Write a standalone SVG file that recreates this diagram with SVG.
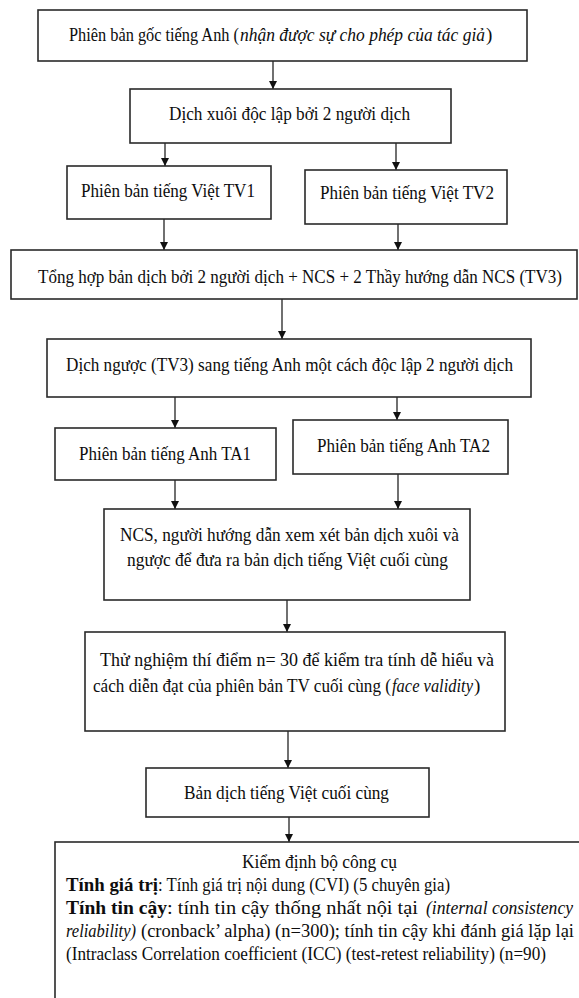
<svg xmlns="http://www.w3.org/2000/svg" width="579" height="998" viewBox="0 0 579 998">
<style>
.box{fill:#fff;stroke:#2a2a2a;stroke-width:1.6}
.t{font-family:"Liberation Serif","Times New Roman",serif;font-size:19px;fill:#0d0d0d}
.i{font-style:italic}
.b{font-weight:bold}
.c{stroke:#111;stroke-width:1.2;fill:none;marker-end:url(#ah)}
</style>
<defs>
<marker id="ah" viewBox="0 0 8 8" refX="8" refY="4" markerWidth="8" markerHeight="8" markerUnits="userSpaceOnUse" orient="auto">
<path d="M0,0 L8,4 L0,8 z" fill="#111"/>
</marker>
</defs>
<rect width="579" height="998" fill="#fff"/>
<g id="connectors">
<line class="c" x1="273" y1="61" x2="273" y2="89"/>
<line class="c" x1="165" y1="143" x2="165" y2="166"/>
<line class="c" x1="396" y1="143" x2="396" y2="170"/>
<line class="c" x1="164" y1="219" x2="164" y2="250"/>
<line class="c" x1="398" y1="224" x2="398" y2="250"/>
<line class="c" x1="282" y1="299" x2="282" y2="339"/>
<line class="c" x1="175" y1="397" x2="175" y2="428"/>
<line class="c" x1="397" y1="397" x2="397" y2="420"/>
<line class="c" x1="175" y1="480" x2="175" y2="509"/>
<line class="c" x1="398" y1="474" x2="398" y2="509"/>
<line class="c" x1="287" y1="600" x2="287" y2="632"/>
<line class="c" x1="288" y1="731" x2="288" y2="768"/>
<line class="c" x1="289" y1="817" x2="289" y2="842"/>
</g>
<g id="n1">
<rect class="box" x="38" y="10" width="489" height="51"/>
<text class="t" x="69" y="41" textLength="170" lengthAdjust="spacingAndGlyphs">Phiên bản gốc tiếng Anh (</text>
<text class="t i" x="240" y="41" textLength="245" lengthAdjust="spacingAndGlyphs">nhận được sự cho phép của tác giả</text>
<text class="t" x="486" y="41">)</text>
</g>
<g id="n2">
<rect class="box" x="130" y="89" width="321" height="54"/>
<text class="t" x="169" y="120" textLength="241" lengthAdjust="spacingAndGlyphs">Dịch xuôi độc lập bởi 2 người dịch</text>
</g>
<g id="n3">
<rect class="box" x="67" y="166" width="204" height="53"/>
<text class="t" x="81" y="197" textLength="174" lengthAdjust="spacingAndGlyphs">Phiên bản tiếng Việt TV1</text>
</g>
<g id="n4">
<rect class="box" x="305" y="170" width="202" height="54"/>
<text class="t" x="320" y="199" textLength="174" lengthAdjust="spacingAndGlyphs">Phiên bản tiếng Việt TV2</text>
</g>
<g id="n5">
<rect class="box" x="11" y="250" width="566" height="49"/>
<text class="t" x="38" y="283" textLength="524" lengthAdjust="spacingAndGlyphs">Tổng hợp bản dịch bởi 2 người dịch + NCS + 2 Thầy hướng dẫn NCS (TV3)</text>
</g>
<g id="n6">
<rect class="box" x="47" y="339" width="484" height="58"/>
<text class="t" x="66" y="371" textLength="447" lengthAdjust="spacingAndGlyphs">Dịch ngược (TV3) sang tiếng Anh một cách độc lập 2 người dịch</text>
</g>
<g id="n7">
<rect class="box" x="55" y="428" width="221" height="52"/>
<text class="t" x="79" y="460" textLength="172" lengthAdjust="spacingAndGlyphs">Phiên bản tiếng Anh TA1</text>
</g>
<g id="n8">
<rect class="box" x="293" y="420" width="215" height="54"/>
<text class="t" x="317" y="452" textLength="173" lengthAdjust="spacingAndGlyphs">Phiên bản tiếng Anh TA2</text>
</g>
<g id="n9">
<rect class="box" x="104" y="509" width="366" height="91"/>
<text class="t" x="120" y="541" textLength="339" lengthAdjust="spacingAndGlyphs">NCS, người hướng dẫn xem xét bản dịch xuôi và</text>
<text class="t" x="127" y="566" textLength="321" lengthAdjust="spacingAndGlyphs">ngược để đưa ra bản dịch tiếng Việt cuối cùng</text>
</g>
<g id="n10">
<rect class="box" x="85" y="632" width="420" height="99"/>
<text class="t" x="100" y="666" textLength="394" lengthAdjust="spacingAndGlyphs">Thử nghiệm thí điểm n= 30 để kiểm tra tính dễ hiểu và</text>
<text class="t" x="93" y="692" textLength="298" lengthAdjust="spacingAndGlyphs">cách diễn đạt của phiên bản TV cuối cùng (</text>
<text class="t i" x="392" y="692" textLength="81" lengthAdjust="spacingAndGlyphs">face validity</text>
<text class="t" x="474" y="692">)</text>
</g>
<g id="n11">
<rect class="box" x="146" y="768" width="283" height="49"/>
<text class="t" x="184" y="799" textLength="205" lengthAdjust="spacingAndGlyphs">Bản dịch tiếng Việt cuối cùng</text>
</g>
<g id="n12">
<rect class="box" x="55" y="842" width="540" height="170"/>
<text class="t" x="242" y="868" textLength="155" lengthAdjust="spacingAndGlyphs">Kiểm định bộ công cụ</text>
<text class="t b" x="66" y="891" textLength="92" lengthAdjust="spacingAndGlyphs">Tính giá trị</text>
<text class="t" x="158" y="891" textLength="292" lengthAdjust="spacingAndGlyphs">: Tính giá trị nội dung (CVI) (5 chuyên gia)</text>
<text class="t b" x="66" y="914" textLength="101" lengthAdjust="spacingAndGlyphs">Tính tin cậy</text>
<text class="t" x="167" y="914" textLength="251" lengthAdjust="spacingAndGlyphs">: tính tin cậy thống nhất nội tại</text>
<text class="t i" x="426" y="914" textLength="147" lengthAdjust="spacingAndGlyphs">(internal consistency</text>
<text class="t i" x="66" y="937" textLength="70" lengthAdjust="spacingAndGlyphs">reliability)</text>
<text class="t" x="141" y="937" textLength="433" lengthAdjust="spacingAndGlyphs">(cronback’ alpha) (n=300); tính tin cậy khi đánh giá lặp lại</text>
<text class="t" x="66" y="960" textLength="480" lengthAdjust="spacingAndGlyphs">(Intraclass Correlation coefficient (ICC) (test-retest reliability) (n=90)</text>
</g>
</svg>
